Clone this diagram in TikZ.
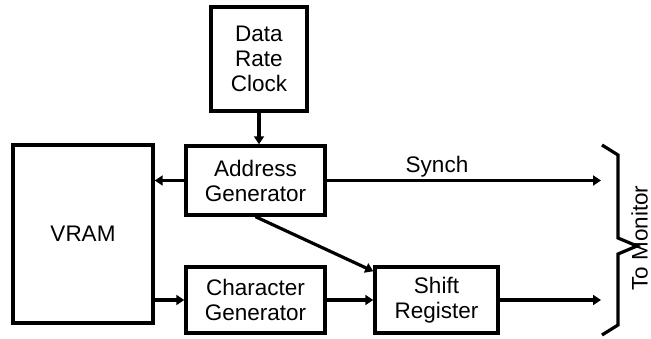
\documentclass[tikz,border=0pt]{standalone}
\usepackage{fontspec}
\setmainfont{Liberation Sans}
\usetikzlibrary{arrows.meta,calc}
\begin{document}
\begin{tikzpicture}[x=1pt,y=1pt,
  blk/.style={draw,line width=3.4pt,rectangle,inner sep=0pt,align=center,
    font=\fontsize{22.5}{25}\selectfont},
  conn/.style={line width=3.2pt,-{Triangle[length=8pt,width=10pt]}},
  lbl/.style={font=\fontsize{22.5}{25}\selectfont,inner sep=0pt}]
\useasboundingbox (0,0) rectangle (651,338);
\node[blk,minimum width=96pt,minimum height=104pt] (clock) at (259,279) {Data\\Rate\\Clock};
\node[blk,minimum width=139pt,minimum height=69pt] (addr) at (255.5,157.5) {Address\\Generator};
\node[blk,minimum width=140pt,minimum height=178pt] (vram) at (83,104) {VRAM};
\node[blk,minimum width=139pt,minimum height=66pt] (chargen) at (255.5,38) {Character\\Generator};
\node[blk,minimum width=123pt,minimum height=66pt] (shift) at (436.5,38) {Shift\\Register};
\coordinate (synchend) at (601,157.5);
\coordinate (shiftend) at (601,38);
\node[lbl,anchor=base] (synch) at (437,165) {Synch};
\node[lbl,anchor=base,rotate=90] (mon) at (647.5,100) {To Monitor};
\draw[conn] (clock.south) -- (clock.south |- addr.north);
\draw[conn] (addr.west) -- (addr.west -| vram.east);
\draw[conn] (addr.east) -- (synchend);
\draw[conn] (addr.south) -- ($(shift.north west)+(0,-6)$);
\draw[conn] (vram.east |- chargen.west) -- (chargen.west);
\draw[conn] (chargen.east) -- (shift.west);
\draw[conn] (shift.east) -- (shiftend);
\draw[line width=3.2pt,line join=miter] (602,193) -- (618,183) -- (618,100) -- (637,92) -- (618,84) -- (618,13) -- (602,3);
\end{tikzpicture}
\end{document}
